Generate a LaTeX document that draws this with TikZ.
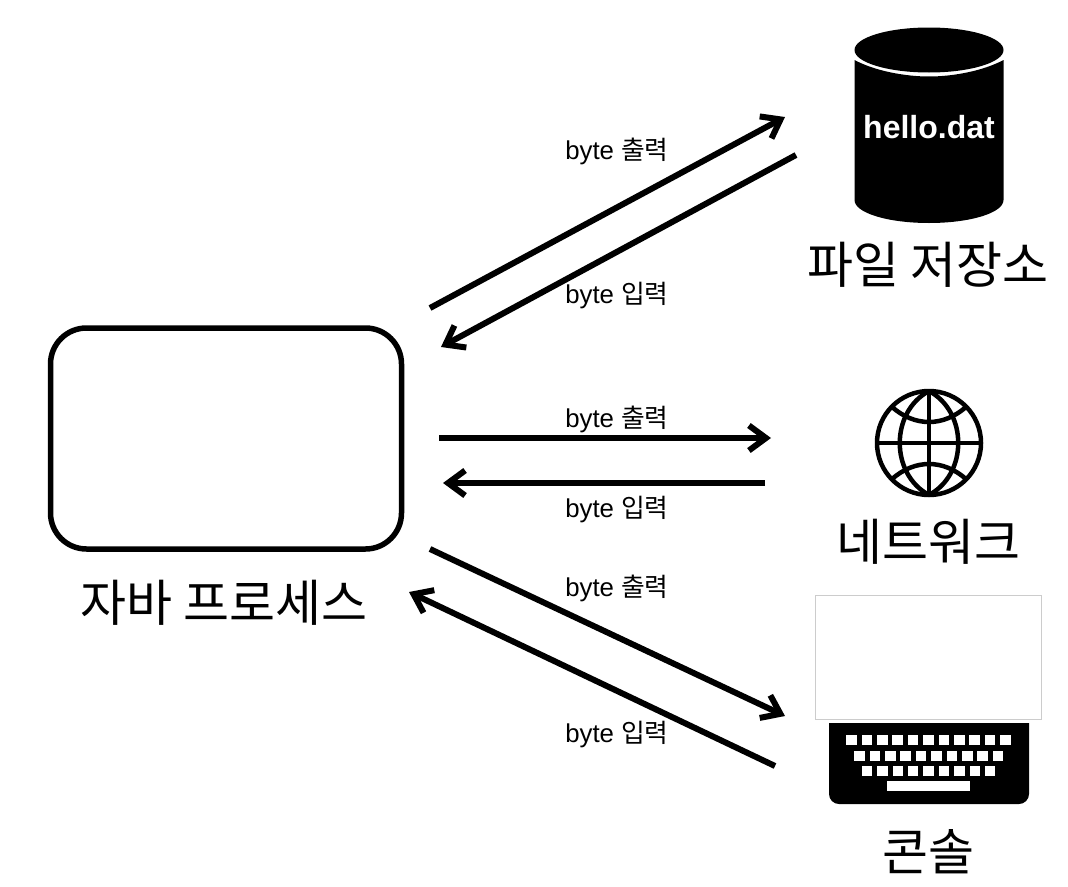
\documentclass[tikz,border=0pt]{standalone}
\usepackage{fontspec}
\setmainfont{Liberation Sans}
\newfontfamily\krfont{Noto Sans CJK KR}
\usetikzlibrary{arrows.meta}
\begin{document}
\begin{tikzpicture}[
x=1pt, y=-1pt,
procbox/.style = {draw, rounded corners=36pt, line width=5.5pt, minimum width=351pt, minimum height=221pt, inner sep=0pt},
bigtext/.style = {inner sep=0pt, font=\krfont\fontsize{50}{50}\selectfont},
bytetext/.style = {inner sep=0pt, font=\fontsize{25.8}{26}\selectfont},
iotext/.style = {line width=6pt, -{Straight Barb[length=17pt, width=25pt, line width=6pt]}},
globeline/.style = {line width=4.5pt},
keycap/.style = {fill=white, minimum size=10.5pt, inner sep=0pt}
                        ]
%spacing
\useasboundingbox (0,0) rectangle (1068,886);
%

% process
\node[procbox] (process) at (226,438.5) {};
\node[bigtext] (processname) at (224,603) {자바 프로세스};

% file store
\fill (929,50) ellipse [x radius=74.5, y radius=22.5];
\fill (854.5,60) .. controls (875,71) and (905,76.5) .. (929,76.5)
    .. controls (953,76.5) and (983,71) .. (1003.5,60) -- (1003.5,200)
    .. controls (1003.5,213) and (970,223) .. (929,223)
    .. controls (888,223) and (854.5,213) .. (854.5,200) -- cycle;
\node[inner sep=0pt, text=white, font=\bfseries\fontsize{32}{32}\selectfont] (hello) at (929,127) {hello.dat};
\node[bigtext] (filename) at (928,265) {파일 저장소};

% network
\draw[globeline] (929,443) circle [radius=52];
\draw[globeline] (877,443) -- (981,443);
\draw[globeline] (929,391) -- (929,495);
\draw[globeline] (929,391) .. controls (890,412) and (890,474) .. (929,495);
\draw[globeline] (929,391) .. controls (968,412) and (968,474) .. (929,495);
\draw[globeline] (892,407) .. controls (915,427) and (943,427) .. (966,407);
\draw[globeline] (892,479) .. controls (915,459) and (943,459) .. (966,479);
\node[bigtext] (netname) at (928,542) {네트워크};

% console
\node[draw=black!20, fill=white, line width=0.8pt, minimum width=226pt, minimum height=124pt, inner sep=0pt] (screen) at (928,657) {};
\fill (829,723) -- (1029,723) -- (1029,794) arc [start angle=0, end angle=90, radius=10] -- (839,804)
    arc [start angle=90, end angle=180, radius=10] -- cycle;
\foreach \k in {0,...,10}
{
    \node[keycap] (keya\k) at (851.5+15.4*\k,740) {};
}
\foreach \k in {0,...,9}
{
    \node[keycap] (keyb\k) at (859.5+15.4*\k,756) {};
}
\foreach \k in {0,...,8}
{
    \node[keycap] (keyc\k) at (867+15.4*\k,771) {};
}
\node[fill=white, minimum width=83pt, minimum height=10pt, inner sep=0pt] (spacebar) at (928.5,786) {};
\node[bigtext] (consolename) at (928,852) {콘솔};

% connector ends
\coordinate (fileoutstart) at (430,308);
\coordinate (fileoutend) at (785,117);
\coordinate (fileinstart) at (796,155);
\coordinate (fileinend) at (441,347);
\coordinate (netoutstart) at (439,438);
\coordinate (netoutend) at (771,438);
\coordinate (netinstart) at (765,483);
\coordinate (netinend) at (443,483);
\coordinate (conoutstart) at (430,549);
\coordinate (conoutend) at (785,716);
\coordinate (coninstart) at (775,766);
\coordinate (coninend) at (409,592);

% arrows
\draw[iotext] (fileoutstart) -- (fileoutend);
\draw[iotext] (fileinstart) -- (fileinend);
\draw[iotext] (netoutstart) -- (netoutend);
\draw[iotext] (netinstart) -- (netinend);
\draw[iotext] (conoutstart) -- (conoutend);
\draw[iotext] (coninstart) -- (coninend);

% arrow labels
\node[bytetext] (fileout) at (617,151) {byte {\krfont 출력}};
\node[bytetext] (filein) at (617,296) {byte {\krfont 입력}};
\node[bytetext] (netout) at (617,419) {byte {\krfont 출력}};
\node[bytetext] (netin) at (617,510) {byte {\krfont 입력}};
\node[bytetext] (conout) at (617,588) {byte {\krfont 출력}};
\node[bytetext] (conin) at (617,734) {byte {\krfont 입력}};

\end{tikzpicture}
\end{document}
